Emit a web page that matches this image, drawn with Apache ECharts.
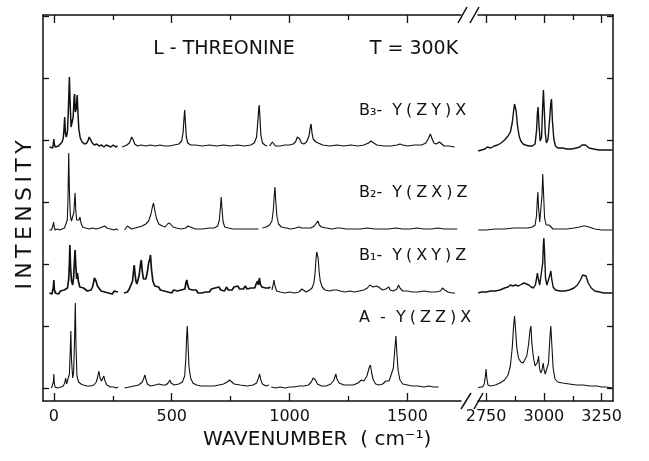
<!DOCTYPE html>
<html>
<head>
<meta charset="utf-8">
<script src="https://cdn.jsdelivr.net/npm/echarts/dist/echarts.min.js"></script>
<style>
html,body{margin:0;padding:0;background:#fff;}
#c{width:649px;height:461px;}
</style>
</head>
<body>
<div id="c"></div>
<script>
// ---- tick labels ----
const leftTicksMajor = [0, 500, 1000, 1500];
const leftTicksMinor = [250, 750, 1250];
const rightTicksMajor = [2750, 3000, 3250];
const rightTicksMinor = [2875, 3125];
const yTicks = [0, 62, 124, 186, 248, 310, 372];

// ---- spectrum names ----
const spectrumNames = ['A', 'B1', 'B2', 'B3'];
const spectrumLabels = ['A  -  Y\u2005(\u2005Z\u2005Z\u2005)\u2005X', 'B\u2081-  Y\u2005(\u2005X\u2005Y\u2005)\u2005Z', 'B\u2082-  Y\u2005(\u2005Z\u2005X\u2005)\u2005Z', 'B\u2083-  Y\u2005(\u2005Z\u2005Y\u2005)\u2005X'];
// vertical stacking offsets (intensity units) for low and high wavenumber parts
const offsetsLow = [0, 95, 158, 241];
const offsetsHigh = [0, 95, 158, 237];

// ---- A : Y(ZZ)X ----
const A_seg1 = [[-10,0],[-4,1],[-2,6],[0,14],[2,5],[5,1],[15,0],[30,1],[40,2],[46,5],[50,10],[54,4],[60,5],[66,14],[70,40],[72,57],[75,28],[80,10],[84,16],[88,50],[91,85],[94,42],[98,12],[105,6],[115,4],[125,3],[140,2],[155,2],[170,3],[180,6],[186,11],[191,17],[196,10],[202,7],[208,9],[212,12],[217,7],[225,3],[240,1],[255,1],[265,0],[272,1]];
const A_seg2 = [[300,0],[305,2],[320,1],[340,2],[360,3],[375,6],[382,10],[386,13],[390,9],[397,4],[410,2],[430,3],[446,4],[460,3],[475,3],[485,5],[492,8],[497,5],[510,3],[530,4],[545,6],[555,12],[560,30],[563,50],[566,62],[569,45],[573,22],[580,10],[590,5],[605,3],[625,2],[650,2],[680,2],[700,3],[720,4],[735,6],[745,8],[752,6],[765,4],[790,3],[820,2],[845,3],[860,5],[868,10],[873,14],[878,8],[885,4],[900,2],[912,3]];
const A_seg3 = [[922,1],[940,0],[960,1],[980,0],[1000,1],[1020,1],[1040,2],[1060,2],[1080,3],[1092,6],[1100,10],[1105,12],[1110,8],[1118,4],[1135,2],[1155,2],[1175,4],[1188,8],[1196,14],[1201,9],[1210,5],[1230,3],[1250,3],[1270,3],[1290,5],[1305,8],[1315,7],[1328,12],[1337,20],[1343,23],[1348,15],[1355,8],[1365,4],[1380,3],[1395,4],[1408,7],[1416,9],[1422,7],[1430,9],[1440,20],[1446,38],[1451,52],[1455,35],[1460,18],[1468,8],[1480,4],[1500,3],[1520,2],[1545,2],[1570,1],[1590,2],[1610,1],[1632,1]];
const A_high = [[2716,0],[2725,1],[2735,1],[2742,4],[2747,12],[2750,19],[2753,10],[2758,3],[2770,2],[2790,3],[2810,5],[2830,8],[2845,13],[2855,22],[2863,40],[2869,62],[2873,72],[2877,60],[2883,40],[2890,30],[2900,26],[2910,25],[2918,27],[2926,32],[2934,44],[2940,58],[2944,62],[2948,45],[2955,30],[2962,22],[2968,20],[2973,26],[2977,32],[2981,20],[2986,15],[2992,18],[2997,25],[3001,18],[3006,14],[3012,14],[3020,25],[3026,50],[3030,62],[3034,45],[3040,20],[3048,9],[3060,6],[3080,5],[3110,4],[3140,3],[3170,3],[3200,2],[3230,2],[3250,1],[3270,1],[3296,0]];

// ---- B1 : Y(XY)Z ----
const B1_seg1 = [[-19,0],[-12,2],[-8,-1],[-4,1],[-2,6],[0,13],[2,4],[6,0],[12,2],[20,-1],[28,2],[36,0],[44,3],[52,1],[58,5],[63,14],[66,30],[68,48],[71,25],[75,12],[80,8],[84,16],[87,30],[90,43],[93,28],[97,14],[100,20],[104,12],[110,6],[118,4],[126,5],[134,3],[142,2],[150,4],[158,3],[164,6],[168,10],[172,15],[175,17],[179,12],[185,7],[192,5],[200,2],[208,4],[216,1],[224,3],[232,0],[240,2],[248,-1],[256,2],[264,0],[272,1]];
const B1_seg2 = [[297,0],[304,2],[312,1],[320,4],[328,6],[334,12],[338,22],[341,28],[344,20],[348,12],[352,9],[356,12],[362,18],[367,28],[371,33],[375,22],[380,14],[385,12],[390,14],[396,20],[402,30],[407,34],[410,38],[414,24],[420,12],[428,7],[436,5],[444,6],[452,3],[460,5],[468,2],[476,4],[484,1],[492,3],[500,0],[508,3],[516,1],[524,2],[532,0],[540,3],[548,1],[556,4],[560,10],[564,13],[568,8],[573,4],[580,2],[588,3],[596,1],[604,3],[612,0],[620,2],[628,0],[636,2],[644,1],[652,3],[660,1],[668,4],[676,2],[684,5],[692,3],[700,6],[708,3],[716,5],[724,2],[732,6],[740,3],[748,5],[756,3],[764,6],[772,4],[780,7],[788,4],[796,6],[804,4],[812,7],[820,4],[828,6],[836,5],[844,7],[852,5],[858,9],[864,12],[868,8],[872,15],[876,9],[882,6],[890,8],[898,5],[906,7],[912,5],[918,6]];
const B1_seg3 = [[925,3],[930,8],[934,13],[938,7],[945,2],[960,1],[980,0],[1000,1],[1020,0],[1040,1],[1048,3],[1052,4],[1056,2],[1070,1],[1085,3],[1095,5],[1103,10],[1108,20],[1112,34],[1115,41],[1118,43],[1121,35],[1125,22],[1130,12],[1138,6],[1150,3],[1170,2],[1185,3],[1193,5],[1200,3],[1215,2],[1235,1],[1255,2],[1275,1],[1295,2],[1315,3],[1330,5],[1340,8],[1347,10],[1354,6],[1362,5],[1370,7],[1377,8],[1383,5],[1395,3],[1408,4],[1415,5],[1421,6],[1427,3],[1440,2],[1455,4],[1462,8],[1468,5],[1480,2],[1500,2],[1520,1],[1545,1],[1570,2],[1595,1],[1620,1],[1640,2],[1648,5],[1653,7],[1658,3],[1672,1],[1690,0],[1702,0]];
const B1_high = [[2716,0],[2730,1],[2750,1],[2770,2],[2790,2],[2810,3],[2830,5],[2845,6],[2855,8],[2865,7],[2877,8],[2890,7],[2905,9],[2915,10],[2925,9],[2935,8],[2945,6],[2955,5],[2963,8],[2968,14],[2972,20],[2976,14],[2982,8],[2990,10],[2995,30],[2998,50],[3000,55],[3003,40],[3007,15],[3013,8],[3020,10],[3026,18],[3030,22],[3034,14],[3040,6],[3050,3],[3070,2],[3090,2],[3110,3],[3130,5],[3145,8],[3158,13],[3168,18],[3175,20],[3182,17],[3192,10],[3205,5],[3220,2],[3240,1],[3260,0],[3280,0],[3296,0]];

// ---- B2 : Y(ZX)Z ----
const B2_seg1 = [[-19,0],[-10,0],[-5,2],[-3,5],[-1,8],[1,4],[5,0],[15,1],[25,0],[35,1],[45,2],[52,4],[57,10],[60,30],[63,77],[66,40],[70,14],[75,9],[80,10],[85,18],[88,30],[90,37],[93,20],[97,10],[102,8],[107,10],[111,13],[115,7],[122,3],[135,2],[150,1],[165,2],[180,1],[195,2],[205,3],[212,5],[216,4],[225,2],[240,1],[255,0],[265,1],[272,0]];
const B2_seg2 = [[300,0],[306,2],[312,4],[318,2],[330,1],[345,2],[360,3],[375,4],[390,6],[402,9],[412,16],[418,23],[423,27],[428,20],[435,12],[445,6],[460,4],[472,3],[480,5],[486,7],[490,8],[495,6],[505,3],[520,2],[540,1],[560,2],[569,4],[575,2],[600,1],[630,1],[660,2],[680,2],[695,4],[702,10],[707,24],[710,33],[713,22],[718,8],[725,3],[740,2],[760,1],[790,1],[820,1],[850,1],[868,1]];
const B2_seg3 = [[885,2],[900,3],[915,5],[925,9],[931,20],[935,35],[938,43],[941,30],[946,14],[953,6],[965,3],[985,2],[1005,1],[1025,2],[1040,3],[1045,4],[1050,2],[1070,2],[1090,2],[1105,4],[1113,6],[1120,9],[1126,5],[1135,3],[1155,2],[1180,1],[1200,2],[1207,3],[1214,2],[1240,1],[1270,1],[1300,1],[1330,2],[1360,1],[1390,1],[1420,1],[1450,2],[1480,1],[1510,1],[1540,2],[1570,1],[1600,1],[1630,2],[1655,1],[1680,1],[1711,1]];
const B2_high = [[2716,0],[2750,0],[2790,1],[2830,1],[2870,2],[2900,2],[2930,2],[2950,3],[2962,5],[2968,14],[2972,32],[2974,38],[2977,22],[2982,8],[2988,10],[2992,35],[2995,56],[2998,40],[3003,12],[3010,5],[3018,3],[3022,5],[3026,3],[3040,1],[3070,1],[3100,1],[3130,2],[3155,3],[3170,4],[3180,4],[3195,3],[3220,1],[3250,0],[3275,0],[3296,0]];

// ---- B3 : Y(ZY)X ----
const B3_seg1 = [[-18,0],[-10,1],[-5,-1],[-2,3],[0,8],[2,3],[6,0],[12,2],[20,1],[28,3],[35,5],[40,9],[43,18],[46,30],[49,14],[53,10],[58,16],[62,40],[66,70],[69,45],[73,20],[77,18],[82,30],[86,50],[88,53],[91,35],[95,38],[99,52],[102,35],[106,18],[112,9],[120,5],[130,3],[140,4],[146,7],[150,10],[153,12],[157,8],[163,4],[172,2],[182,3],[192,1],[202,2],[212,0],[222,2],[232,1],[242,0],[252,2],[262,0],[270,1]];
const B3_seg2 = [[290,0],[300,1],[310,2],[320,4],[326,7],[330,10],[333,11],[337,7],[343,3],[355,1],[370,2],[390,1],[410,2],[430,1],[450,2],[470,1],[490,1],[510,2],[530,3],[542,6],[548,14],[552,28],[555,37],[558,25],[562,10],[568,4],[580,2],[600,2],[630,1],[660,2],[690,1],[720,2],[750,1],[780,2],[810,1],[835,2],[850,4],[860,10],[866,28],[869,38],[871,42],[874,30],[878,12],[885,4],[895,2],[905,1]];
const B3_seg3 = [[915,1],[922,3],[927,5],[931,3],[940,1],[960,1],[980,2],[1000,2],[1015,3],[1025,5],[1033,10],[1038,12],[1043,8],[1050,4],[1060,3],[1072,5],[1082,11],[1088,20],[1091,23],[1095,14],[1100,8],[1104,7],[1108,8],[1112,5],[1120,3],[1140,2],[1170,1],[1200,2],[1230,1],[1260,2],[1290,1],[1315,2],[1335,4],[1345,6],[1351,7],[1357,4],[1370,2],[1400,1],[1430,1],[1455,2],[1468,3],[1474,4],[1480,2],[1500,1],[1530,2],[1560,2],[1578,4],[1590,9],[1597,13],[1603,9],[1612,4],[1622,3],[1630,4],[1636,5],[1642,3],[1655,1],[1675,1],[1700,0]];
const B3_high = [[2716,0],[2730,1],[2745,2],[2755,4],[2760,3],[2770,3],[2785,5],[2800,6],[2815,8],[2830,11],[2845,15],[2855,19],[2863,28],[2869,40],[2873,47],[2876,48],[2880,40],[2886,25],[2893,15],[2900,10],[2910,7],[2920,6],[2935,5],[2950,5],[2962,7],[2968,20],[2972,38],[2975,44],[2979,25],[2984,10],[2990,14],[2994,40],[2998,61],[3001,45],[3006,18],[3011,8],[3018,12],[3026,35],[3030,48],[3033,52],[3037,30],[3043,12],[3050,5],[3060,3],[3080,3],[3100,2],[3120,2],[3140,3],[3155,4],[3165,6],[3173,8],[3180,6],[3195,3],[3215,2],[3240,1],[3265,1],[3296,1]];

const lowSegments = [
  [A_seg1, A_seg2, A_seg3],
  [B1_seg1, B1_seg2, B1_seg3],
  [B2_seg1, B2_seg2, B2_seg3],
  [B3_seg1, B3_seg2, B3_seg3]
];
const highSegments = [A_high, B1_high, B2_high, B3_high];
// line widths per spectrum / segment (noisier recordings drawn heavier)
const lowWidths = [[1.1,1.1,1.1],[1.7,1.7,1.1],[1.1,1.1,1.1],[1.5,1.2,1.2]];
const highWidths = [1.1, 1.4, 1.1, 1.4];

const FONT = 'DejaVu Sans';
const INK = '#111';

function shift(arr, off) { return arr.map(p => [p[0], p[1] + off]); }

const series = [];
lowSegments.forEach((segs, i) => {
  segs.forEach((seg, j) => {
    series.push({
      name: spectrumNames[i] + '-low' + j, type: 'line', xAxisIndex: 0, yAxisIndex: 0,
      data: shift(seg, offsetsLow[i]), showSymbol: false, symbol: 'none',
      lineStyle: { color: INK, width: lowWidths[i][j] }, animation: false, silent: true
    });
  });
});
highSegments.forEach((seg, i) => {
  series.push({
    name: spectrumNames[i] + '-high', type: 'line', xAxisIndex: 4, yAxisIndex: 1,
    data: shift(seg, offsetsHigh[i]), showSymbol: false, symbol: 'none',
    lineStyle: { color: INK, width: highWidths[i] }, animation: false, silent: true
  });
});

function xAx(grid, pos, min, max, ticks, len, labels, line) {
  return {
    type: 'value', gridIndex: grid, position: pos, min: min, max: max,
    axisLine: { show: line, onZero: false, lineStyle: { color: INK, width: 1.5 } },
    axisTick: { show: true, inside: true, length: len, customValues: ticks, lineStyle: { color: INK, width: 1.3 } },
    axisLabel: labels ? { show: true, customValues: ticks, color: INK, fontSize: 16, fontFamily: FONT, margin: 8, formatter: v => String(v) } : { show: false },
    splitLine: { show: false }
  };
}
const L0 = -46, L1 = 1727, R0 = 2715, R1 = 3299;
const xAxes = [
  xAx(0, 'bottom', L0, L1, leftTicksMajor, 8, true, true),
  xAx(0, 'bottom', L0, L1, leftTicksMinor, 5, false, false),
  xAx(0, 'top', L0, L1, leftTicksMajor, 8, false, true),
  xAx(0, 'top', L0, L1, leftTicksMinor, 5, false, false),
  xAx(1, 'bottom', R0, R1, rightTicksMajor, 8, true, true),
  xAx(1, 'bottom', R0, R1, rightTicksMinor, 5, false, false),
  xAx(1, 'top', R0, R1, rightTicksMajor, 8, false, true),
  xAx(1, 'top', R0, R1, rightTicksMinor, 5, false, false)
];
function yAx(grid, pos) {
  return {
    type: 'value', gridIndex: grid, position: pos, min: -13, max: 373,
    axisLine: { show: true, onZero: false, lineStyle: { color: INK, width: 1.5 } },
    axisTick: { show: true, inside: true, length: 6, customValues: yTicks, lineStyle: { color: INK, width: 1.3 } },
    axisLabel: { show: false }, splitLine: { show: false }
  };
}

const labelY = [318, 256, 193, 111];
function txt(x, y, t, size, align, rot) {
  const o = { type: 'text', x: x, y: y, style: { text: t, font: size + 'px "' + FONT + '"', fill: INK, align: align, verticalAlign: 'middle', textAlign: align, textVerticalAlign: 'middle' } };
  if (rot) o.rotation = rot;
  return o;
}
const graphics = [
  txt(224, 49, 'L - THREONINE', 19, 'center'),
  txt(414, 49, 'T = 300K', 19, 'center'),
  txt(203, 440, 'WAVENUMBER  ( cm\u207B\u00B9)', 20, 'left'),
  txt(25, 215, 'I\u2009N\u2009T\u2009E\u2009N\u2009S\u2009I\u2009T\u2009Y', 22, 'center', Math.PI / 2),
  // axis break marks
  { type: 'line', shape: { x1: 458, y1: 23, x2: 467, y2: 7 }, style: { stroke: INK, lineWidth: 1.5 } },
  { type: 'line', shape: { x1: 470, y1: 23, x2: 479, y2: 7 }, style: { stroke: INK, lineWidth: 1.5 } },
  { type: 'line', shape: { x1: 461, y1: 409, x2: 471, y2: 393 }, style: { stroke: INK, lineWidth: 1.5 } },
  { type: 'line', shape: { x1: 474, y1: 409, x2: 483, y2: 393 }, style: { stroke: INK, lineWidth: 1.5 } }
];
spectrumLabels.forEach((t, i) => graphics.push(txt(359, labelY[i], t, 16, 'left')));

const chart = echarts.init(document.getElementById('c'), null, { renderer: 'canvas' });
chart.setOption({
  backgroundColor: '#fff',
  animation: false,
  grid: [
    { left: 43, top: 15, width: 418, height: 386 },
    { left: 478, top: 15, width: 135, height: 386 }
  ],
  xAxis: xAxes,
  yAxis: [yAx(0, 'left'), yAx(1, 'right')],
  series: series,
  graphic: graphics
});
</script>
</body>
</html>
